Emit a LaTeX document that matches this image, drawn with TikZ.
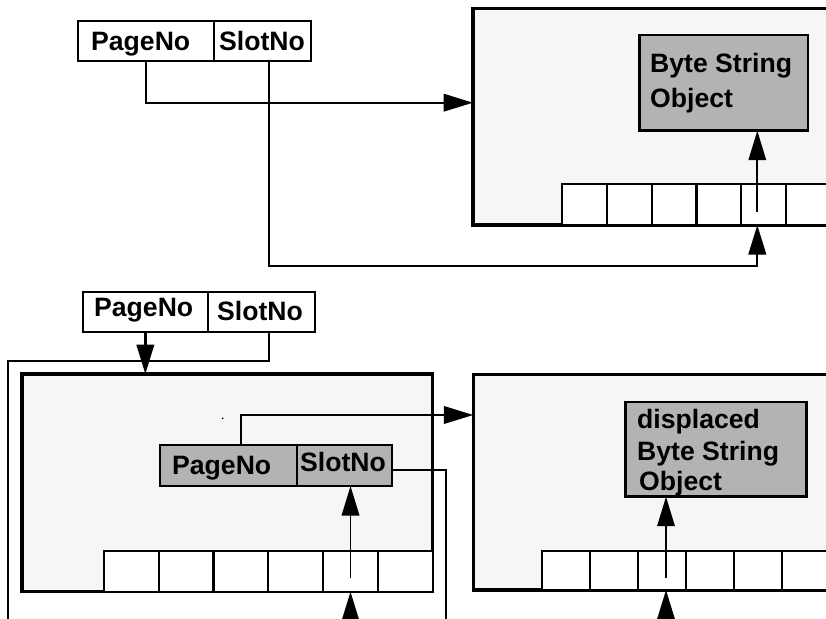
\documentclass[tikz,border=0pt]{standalone}
\usepackage{fontspec}
\setmainfont{Liberation Sans}
\usetikzlibrary{arrows.meta}
\definecolor{pagefill}{HTML}{F6F6F6}
\definecolor{objfill}{HTML}{B3B3B3}
\begin{document}
\begin{tikzpicture}[x=1pt,y=-1pt,
  rect/.style={draw, inner sep=0pt, outer sep=0pt, anchor=north west},
  field/.style={rect, line width=2.3pt, fill=white},
  grayfield/.style={rect, line width=2.3pt, fill=objfill},
  pagebox/.style={rect, line width=3.2pt, fill=pagefill},
  objbox/.style={rect, line width=2.6pt, fill=objfill},
  slotcell/.style={rect, line width=2.3pt, fill=white},
  lbl/.style={inner sep=0pt, anchor=base west, font=\fontsize{26.6}{30}\selectfont\bfseries},
  link/.style={line width=2.3pt},
  arr/.style={line width=2.3pt, -{Triangle[length=29.5pt,width=17.5pt]}},
  ptr/.style={line width=1.8pt, -{Triangle[length=29.5pt,width=17.5pt]}}]
\useasboundingbox (0,0) rectangle (826,618);
\clip (0,0) rectangle (826,618);

% ---------- upper case: object stored on its home page ----------
\node[field, minimum width=135.7pt, minimum height=40.3pt] (pg1) at (78,20.7) {};
\node[field, minimum width=97.3pt, minimum height=40.3pt] (sl1) at (213.7,20.7) {};
\node[lbl] (tpg1) at (91,51) {PageNo};
\node[lbl] (tsl1) at (219,51) {SlotNo};

\node[pagebox, minimum width=380pt, minimum height=216.7pt] (page1) at (473,8.3) {};
\node[objbox, minimum width=168.3pt, minimum height=95.7pt] (bso1) at (639.7,35) {};
\node[lbl] (tb1) at (650,72) {Byte String};
\node[lbl] (tb2) at (650,107) {Object};
\foreach \i in {0,...,6}
  \node[slotcell, minimum width=44.7pt, minimum height=41pt] (a1-\i) at ({562.3+44.7*\i},184) {};

\coordinate (k10) at (300,102.7);
\coordinate (k1) at (757.3,265.7);
\coordinate (k9) at (757.3,212);
\draw[arr] (pg1.south) |- (page1.west |- k10);
\draw[arr] ([xshift=6.7pt]sl1.south) |- (k1) -- (k1 |- page1.south);
\draw[ptr] (k9) -- (k9 |- bso1.south);

% ---------- lower case: object displaced to another page ----------
\node[field, minimum width=125.3pt, minimum height=40pt] (pg2) at (82.7,291.7) {};
\node[field, minimum width=107pt, minimum height=40pt] (sl2) at (208,291.7) {};
\node[lbl] (tpg2) at (94,316.7) {PageNo};
\node[lbl] (tsl2) at (217,320.7) {SlotNo};

\node[pagebox, minimum width=410.7pt, minimum height=217.7pt] (page2) at (22,374) {};
\foreach \i in {0,...,5}
  \node[slotcell, minimum width=54.78pt, minimum height=41pt] (a2-\i) at ({104+54.78*\i},550.7) {};
\node[grayfield, minimum width=136.7pt, minimum height=41pt] (pg3) at (160,445) {};
\node[grayfield, minimum width=95.6pt, minimum height=41pt] (sl3) at (296.7,445) {};
\node[lbl] (tpg3) at (172,474) {PageNo};
\node[lbl] (tsl3) at (300,471.7) {SlotNo};
\fill (222.7,418.3) circle (0.9);

\node[pagebox, minimum width=380pt, minimum height=215.7pt] (page3) at (473.3,374.3) {};
\node[objbox, minimum width=181pt, minimum height=94.7pt] (disp) at (625.7,402) {};
\node[lbl] (td1) at (637,428) {displaced};
\node[lbl] (td2) at (637,460) {Byte String};
\node[lbl] (td3) at (639,490) {Object};
\foreach \i in {0,...,6}
  \node[slotcell, minimum width=48pt, minimum height=39pt] (a3-\i) at ({541.7+48*\i},551) {};

\coordinate (k2) at (8,360.7);
\coordinate (k3) at (8,640);
\coordinate (k4) at (300,415);
\coordinate (k5) at (446,640);
\coordinate (k6) at (350.5,640);
\coordinate (k7) at (666,578);
\coordinate (k8) at (666,640);

\draw[arr] (pg2.south) -- (pg2.south |- page2.north);
\draw[link] ([xshift=7.5pt]sl2.south) |- (k2) -- (k3);
\draw[arr] ([xshift=12.4pt]pg3.north) |- (page3.west |- k4);
\draw[link] ([yshift=-4.5pt]sl3.east) -| (k5);
\draw[ptr] ([yshift=-27.3pt]a2-4.north) -- (a2-4.north |- sl3.south);
\draw[arr] (k6) -- (k6 |- page2.south);
\draw[ptr] (k7) -- (k7 |- disp.south);
\draw[arr] (k8) -- (k8 |- page3.south);
\end{tikzpicture}
\end{document}
